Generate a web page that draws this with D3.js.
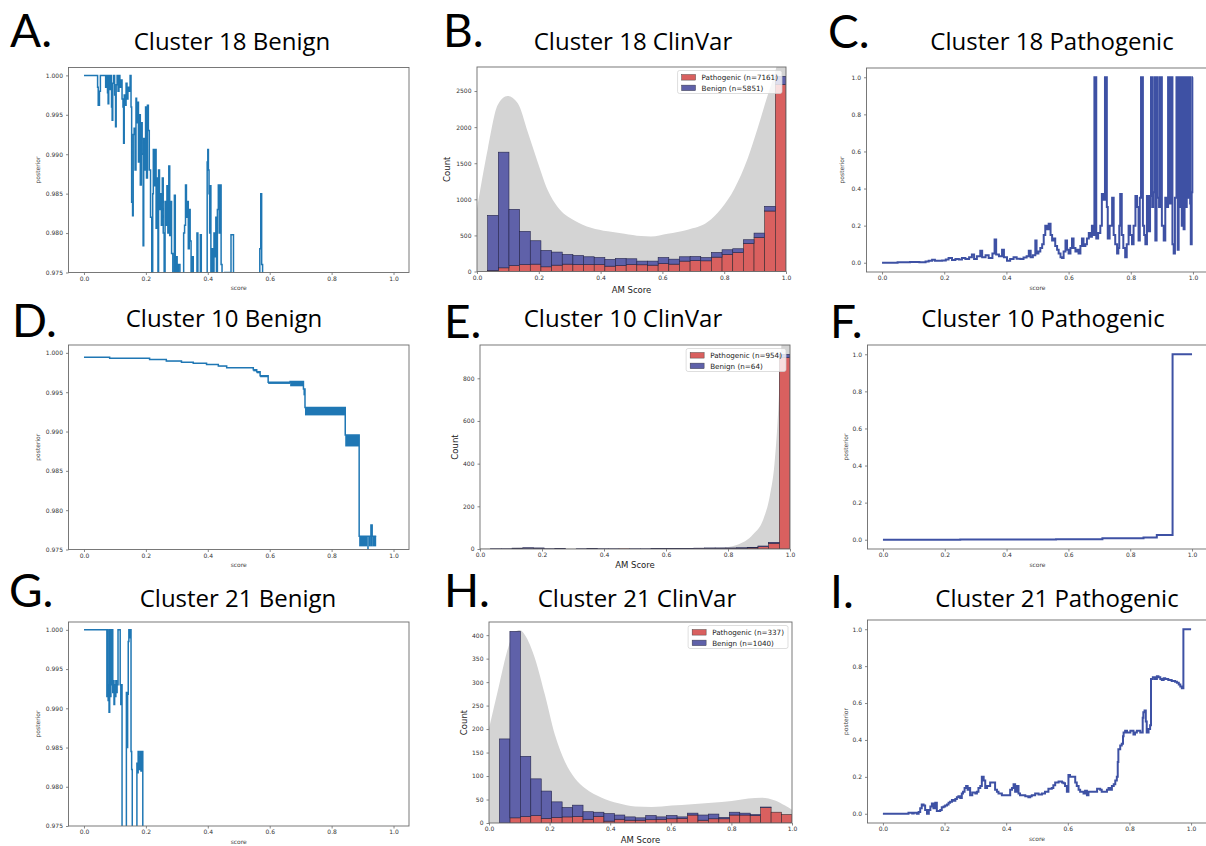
<!DOCTYPE html>
<html>
<head>
<meta charset="utf-8">
<script src="https://cdn.jsdelivr.net/npm/d3@7"></script>
<style>
body { margin: 0; background: #fff; }
svg { display: block; }
</style>
</head>
<body>
<div id="fig"></div>
<script>

// ---- tick labels ----
var scoreTicks = [0, 0.2, 0.4, 0.6, 0.8, 1.0];
var benignPostTicks = [0.975, 0.980, 0.985, 0.990, 0.995, 1.000];
var pathoPostTicks = [0, 0.2, 0.4, 0.6, 0.8, 1.0];
var c18CountTicks = [0, 500, 1000, 1500, 2000, 2500];
var c10CountTicks = [0, 200, 400, 600, 800];
var c21CountTicks = [0, 50, 100, 150, 200, 250, 300, 350, 400];

// ---- histogram bins (29 bins over AM score 0..1) ----
var binN = 29;
var c18PathoCounts  = [0,14,51,83,97,102,65,88,102,97,97,97,74,83,97,93,88,111,102,144,153,148,199,236,264,389,472,838,2593];
var c18BenignCounts = [0,764,1602,778,459,324,227,181,134,125,107,97,93,98,79,51,56,83,69,60,55,46,65,65,51,51,60,65,111];
var c10PathoCounts  = [0,0,0,1,1,1,0,1,0,0,1,0,0,1,0,0,1,1,1,1,2,2,2,3,3,5,11,27,897];
var c10BenignCounts = [0,1,1,3,5,4,1,1,0,1,1,1,1,0,1,1,1,1,1,1,2,3,3,2,3,3,3,4,15];
var c21PathoCounts  = [0,0,11,14,16,10,12,13,14,8,14,4,8,6,6,7,8,9,10,17,6,9,9,17,17,16,33,23,18];
var c21BenignCounts = [0,179,397,128,78,58,33,20,24,16,9,16,9,7,5,9,5,7,3,4,11,10,3,6,4,2,1,0,0];

// ---- density outlines (score, scaled count) ----
var c18Kde = [[0,870],[0.035,1700],[0.067,2305],[0.099,2430],[0.132,2330],[0.164,1935],[0.196,1520],[0.229,1125],[0.261,894],[0.315,708],[0.369,606],[0.423,556],[0.477,523],[0.531,491],[0.563,486],[0.617,523],[0.682,579],[0.746,685],[0.79,870],[0.833,1148],[0.876,1565],[0.908,1981],[0.941,2444],[0.962,2722],[0.98,3000],[1.0,3150]];
var c10Kde = [[0,3],[0.1,5],[0.15,6],[0.25,3],[0.5,2],[0.7,4],[0.774,6],[0.828,19],[0.882,70],[0.914,140],[0.935,250],[0.95,400],[0.962,650],[0.97,900],[0.98,1100],[1.0,1300]];
var c21Kde = [[0,201],[0.031,287],[0.064,375],[0.086,407],[0.102,411],[0.119,400],[0.152,350],[0.185,272],[0.218,187],[0.251,130],[0.284,95],[0.317,74],[0.372,54],[0.427,42],[0.482,35],[0.537,34],[0.603,37],[0.669,40],[0.735,43],[0.801,47],[0.856,52],[0.9,54],[0.944,48],[0.977,37],[1.0,28]];

// ---- posterior curves (score, posterior) ----
var c18BenignPost = [[0.000,1.0000],[0.044,0.9985],[0.046,0.9962],[0.050,0.9980],[0.053,1.0000],[0.070,0.9985],[0.073,1.0000],[0.076,0.9978],[0.078,0.9964],[0.080,1.0000],[0.083,0.9982],[0.086,1.0000],[0.089,0.9960],[0.091,0.9943],[0.093,0.9990],[0.096,1.0000],[0.099,0.9975],[0.102,0.9935],[0.104,0.9988],[0.107,1.0000],[0.110,0.9980],[0.113,1.0000],[0.116,0.9985],[0.120,0.9994],[0.123,0.9970],[0.126,0.9960],[0.128,0.9914],[0.130,0.9975],[0.133,0.9962],[0.136,0.9990],[0.139,0.9970],[0.142,0.9985],[0.146,0.9980],[0.149,1.0000],[0.152,0.9960],[0.154,0.9839],[0.157,0.9822],[0.159,0.9925],[0.162,0.9933],[0.165,0.9880],[0.168,0.9971],[0.170,0.9940],[0.173,0.9966],[0.176,0.9890],[0.179,0.9950],[0.182,0.9861],[0.185,0.9940],[0.188,0.9900],[0.191,0.9784],[0.193,0.9920],[0.196,0.9880],[0.199,0.9960],[0.202,0.9870],[0.205,0.9962],[0.208,0.9930],[0.211,0.9880],[0.215,0.9820],[0.219,0.9720],[0.222,0.9850],[0.224,0.9906],[0.227,0.9860],[0.230,0.9906],[0.233,0.9806],[0.236,0.9870],[0.239,0.9720],[0.241,0.9880],[0.244,0.9830],[0.247,0.9850],[0.250,0.9810],[0.253,0.9870],[0.256,0.9800],[0.259,0.9720],[0.262,0.9840],[0.265,0.9810],[0.268,0.9860],[0.271,0.9800],[0.274,0.9885],[0.277,0.9797],[0.280,0.9840],[0.283,0.9774],[0.287,0.9720],[0.292,0.9848],[0.295,0.9720],[0.298,0.9770],[0.301,0.9720],[0.305,0.9760],[0.310,0.9720],[0.322,0.9800],[0.325,0.9810],[0.328,0.9861],[0.331,0.9820],[0.334,0.9840],[0.337,0.9780],[0.340,0.9830],[0.343,0.9790],[0.346,0.9720],[0.350,0.9770],[0.353,0.9720],[0.365,0.9800],[0.368,0.9720],[0.374,0.9720],[0.376,0.9798],[0.379,0.9720],[0.398,0.9890],[0.400,0.9906],[0.402,0.9880],[0.404,0.9850],[0.406,0.9800],[0.408,0.9860],[0.410,0.9720],[0.413,0.9780],[0.416,0.9720],[0.420,0.9800],[0.423,0.9770],[0.426,0.9820],[0.428,0.9720],[0.431,0.9830],[0.434,0.9861],[0.437,0.9800],[0.440,0.9861],[0.443,0.9760],[0.446,0.9720],[0.455,0.9750],[0.475,0.9798],[0.480,0.9798],[0.483,0.9720],[0.568,0.9780],[0.571,0.9850],[0.574,0.9760],[0.577,0.9720],[0.580,0.9720]];

var c18PathoPost = [[0,0],[0.05,0.002],[0.09,0.004],[0.12,0.003],[0.14,0.006],[0.15,0.01],[0.161,0.016],[0.17,0.01],[0.193,0.012],[0.205,0.018],[0.214,0.025],[0.225,0.015],[0.236,0.02],[0.247,0.018],[0.257,0.026],[0.268,0.02],[0.28,0.03],[0.289,0.045],[0.296,0.02],[0.305,0.035],[0.316,0.065],[0.322,0.03],[0.333,0.04],[0.343,0.025],[0.355,0.05],[0.362,0.125],[0.367,0.045],[0.376,0.035],[0.386,0.07],[0.392,0.03],[0.402,0.01],[0.412,0.02],[0.423,0.03],[0.433,0.022],[0.445,0.02],[0.455,0.028],[0.465,0.035],[0.472,0.065],[0.478,0.03],[0.485,0.04],[0.493,0.12],[0.497,0.05],[0.503,0.06],[0.509,0.08],[0.515,0.1],[0.520,0.15],[0.525,0.2],[0.531,0.18],[0.536,0.21],[0.542,0.15],[0.547,0.12],[0.552,0.13],[0.557,0.09],[0.563,0.07],[0.568,0.05],[0.574,0.03],[0.579,0.025],[0.584,0.06],[0.59,0.12],[0.595,0.07],[0.6,0.05],[0.606,0.08],[0.611,0.13],[0.616,0.08],[0.622,0.06],[0.627,0.07],[0.632,0.05],[0.638,0.09],[0.643,0.13],[0.648,0.09],[0.654,0.1],[0.659,0.13],[0.665,0.16],[0.67,0.14],[0.675,0.2],[0.68,0.15],[0.683,1.0],[0.689,0.13],[0.695,0.16],[0.702,0.2],[0.707,0.37],[0.713,0.34],[0.717,1.0],[0.723,0.3],[0.726,0.13],[0.732,0.2],[0.74,0.35],[0.745,0.15],[0.75,0.1],[0.756,0.05],[0.76,0.08],[0.763,0.2],[0.766,0.37],[0.771,0.15],[0.776,0.08],[0.782,0.03],[0.787,0.1],[0.793,0.2],[0.798,0.15],[0.804,0.1],[0.809,0.2],[0.815,0.36],[0.82,0.3],[0.825,0.12],[0.829,0.35],[0.833,1.0],[0.839,0.2],[0.843,0.15],[0.847,0.1],[0.852,0.36],[0.857,0.17],[0.862,0.36],[0.865,1.0],[0.869,0.3],[0.872,0.38],[0.876,1.0],[0.879,0.12],[0.883,1.0],[0.887,0.35],[0.891,0.3],[0.894,1.0],[0.9,0.2],[0.906,0.12],[0.911,0.35],[0.916,0.3],[0.92,1.0],[0.926,0.32],[0.93,1.0],[0.934,0.1],[0.938,0.05],[0.942,0.35],[0.947,1.0],[0.951,0.07],[0.954,1.0],[0.958,0.3],[0.961,1.0],[0.964,0.2],[0.967,1.0],[0.97,0.18],[0.973,1.0],[0.977,0.3],[0.98,1.0],[0.984,0.35],[0.988,1.0],[0.991,0.32],[0.993,0.1],[0.996,0.38],[0.998,1.0],[1.0,1.0]];

// cluster 10 benign: [score from, score to, posterior low, posterior high]
var c10BenignSteps = [[0.000,0.083,0.99935,0.99945],[0.083,0.212,0.99928,0.99932],[0.212,0.266,0.99913,0.99917],[0.266,0.315,0.99893,0.99897],[0.315,0.353,0.99878,0.99882],[0.353,0.396,0.99863,0.99867],[0.396,0.434,0.99848,0.99852],[0.434,0.461,0.99828,0.99832],[0.461,0.547,0.99808,0.99812],[0.547,0.558,0.99765,0.99785],[0.558,0.569,0.99740,0.99760],[0.569,0.595,0.99690,0.99710],[0.595,0.666,0.99605,0.99625],[0.666,0.709,0.99575,0.99635],[0.709,0.714,0.99460,0.99540],[0.714,0.844,0.99205,0.99305],[0.844,0.889,0.98810,0.98955],[0.889,0.915,0.97540,0.97670],[0.915,0.920,0.97450,0.97670],[0.920,0.927,0.97540,0.97670],[0.927,0.931,0.97540,0.97810],[0.931,0.944,0.97540,0.97670]];

var c10PathoPost = [[0,0],[0.25,0.001],[0.56,0.003],[0.71,0.008],[0.843,0.012],[0.886,0.025],[0.937,1.0],[1.0,1.0]];

var c21BenignPost = [[0.000,1.0000],[0.074,0.9915],[0.076,1.0000],[0.078,0.9910],[0.080,0.9930],[0.081,0.9895],[0.083,1.0000],[0.085,0.9915],[0.087,1.0000],[0.089,0.9930],[0.091,1.0000],[0.093,0.9920],[0.095,0.9935],[0.097,0.9905],[0.099,0.9930],[0.101,0.9915],[0.103,0.9935],[0.105,0.9920],[0.107,0.9930],[0.110,1.0000],[0.115,1.0000],[0.117,0.9930],[0.119,0.9905],[0.121,0.9930],[0.123,0.9700],[0.137,0.9920],[0.139,0.9850],[0.141,0.9918],[0.143,0.9985],[0.145,1.0000],[0.148,0.9990],[0.150,1.0000],[0.152,0.9845],[0.154,0.9822],[0.156,0.9700],[0.171,0.9830],[0.173,0.9818],[0.175,0.9845],[0.177,0.9822],[0.180,0.9838],[0.182,0.9845],[0.184,0.9820],[0.186,0.9838],[0.188,0.9845],[0.190,0.9700]];

var c21PathoPost = [[0,0],[0.083,0.005],[0.095,0.002],[0.1,0.006],[0.11,0.0],[0.116,0.01],[0.121,0.03],[0.126,0.05],[0.132,0.045],[0.137,0.02],[0.143,0.0],[0.149,0.02],[0.154,0.04],[0.159,0.055],[0.164,0.03],[0.17,0.06],[0.175,0.015],[0.186,0.02],[0.191,0.035],[0.197,0.04],[0.202,0.045],[0.208,0.05],[0.213,0.06],[0.218,0.065],[0.224,0.075],[0.229,0.07],[0.235,0.08],[0.24,0.09],[0.245,0.095],[0.251,0.085],[0.256,0.11],[0.26,0.12],[0.265,0.14],[0.27,0.15],[0.275,0.13],[0.28,0.14],[0.283,0.1],[0.29,0.115],[0.3,0.11],[0.305,0.12],[0.31,0.14],[0.316,0.15],[0.321,0.2],[0.327,0.18],[0.332,0.14],[0.338,0.15],[0.343,0.15],[0.348,0.17],[0.359,0.17],[0.364,0.13],[0.37,0.12],[0.375,0.11],[0.386,0.1],[0.402,0.1],[0.413,0.13],[0.419,0.14],[0.424,0.16],[0.429,0.12],[0.435,0.15],[0.44,0.11],[0.445,0.1],[0.462,0.095],[0.472,0.09],[0.478,0.095],[0.483,0.1],[0.494,0.11],[0.505,0.105],[0.516,0.11],[0.526,0.12],[0.537,0.135],[0.548,0.14],[0.553,0.155],[0.559,0.17],[0.57,0.175],[0.581,0.17],[0.586,0.165],[0.591,0.15],[0.597,0.12],[0.602,0.21],[0.607,0.2],[0.618,0.2],[0.624,0.17],[0.629,0.15],[0.635,0.13],[0.64,0.12],[0.651,0.11],[0.656,0.125],[0.662,0.1],[0.667,0.12],[0.672,0.12],[0.689,0.12],[0.695,0.135],[0.705,0.13],[0.71,0.12],[0.721,0.12],[0.727,0.13],[0.732,0.14],[0.738,0.13],[0.743,0.15],[0.749,0.16],[0.754,0.18],[0.759,0.2],[0.762,0.28],[0.764,0.35],[0.77,0.37],[0.775,0.38],[0.779,0.42],[0.781,0.44],[0.786,0.45],[0.792,0.44],[0.797,0.44],[0.803,0.45],[0.808,0.45],[0.813,0.43],[0.818,0.44],[0.824,0.45],[0.829,0.45],[0.835,0.44],[0.84,0.44],[0.843,0.52],[0.845,0.55],[0.849,0.56],[0.853,0.5],[0.856,0.44],[0.862,0.46],[0.867,0.48],[0.87,0.73],[0.876,0.74],[0.883,0.73],[0.889,0.745],[0.894,0.74],[0.9,0.73],[0.905,0.725],[0.911,0.735],[0.916,0.73],[0.926,0.725],[0.937,0.72],[0.948,0.715],[0.954,0.71],[0.96,0.7],[0.965,0.69],[0.97,0.68],[0.975,1.0],[1.0,1.0]];

// ---- styles ----
var benignLine = "#1f77b4",
	pathoLine = "#3e51a4",
	barRed = "#d9605f",
	barBlue = "#5f61a9",
	kdeGray = "#d4d4d4",
	tickFont = "'DejaVu Sans', sans-serif",
	headFont = "'Open Sans', sans-serif",
	letterFont = "Lato, sans-serif";

var svg = d3.select("#fig")
	.append("svg")
	.attr("width", 1206)
	.attr("height", 846);

var clipId = 0;

function addClip(b) {
	clipId++;
	svg.append("clipPath")
		.attr("id", "clip" + clipId)
		.append("rect")
		.attr("x", b[0]).attr("y", b[1])
		.attr("width", b[2] - b[0]).attr("height", b[3] - b[1]);
	return "url(#clip" + clipId + ")";
}

function heading(letter, lx, ly, title, tx, ty) {
	svg.append("text")
		.attr("x", lx).attr("y", ly)
		.attr("font-family", letterFont)
		.attr("font-size", 46)
		.attr("fill", "#000")
		.text(letter);
	svg.append("text")
		.attr("x", tx).attr("y", ty)
		.attr("text-anchor", "middle")
		.attr("font-family", headFont)
		.attr("font-size", 24)
		.attr("fill", "#000")
		.text(title);
}

function drawAxes(g, b, x, y, yticks, yfmt) {
	var ax = g.append("g")
		.attr("transform", "translate(0," + b[3] + ")")
		.call(d3.axisBottom(x).tickValues(scoreTicks).tickFormat(d3.format(".1f")).tickSize(2.5).tickPadding(1.5));
	var ay = g.append("g")
		.attr("transform", "translate(" + b[0] + ",0)")
		.call(d3.axisLeft(y).tickValues(yticks).tickFormat(d3.format(yfmt)).tickSize(2.5).tickPadding(3));
	[ax, ay].forEach(function(a) {
		a.select(".domain").remove();
		a.selectAll(".tick line").attr("stroke", "#555").attr("stroke-width", 0.7);
		a.selectAll(".tick text")
			.attr("font-family", tickFont)
			.attr("font-size", 6)
			.attr("fill", "#333");
	});
	g.append("rect")
		.attr("x", b[0]).attr("y", b[1])
		.attr("width", b[2] - b[0]).attr("height", b[3] - b[1])
		.attr("fill", "none")
		.attr("stroke", "#6a6a6a")
		.attr("stroke-width", 0.9);
}

function postPanel(p) {
	var b = p.box;
	var g = svg.append("g");
	var x = d3.scaleLinear().domain([-0.05, 1.05]).range([b[0], b[2]]);
	var y = d3.scaleLinear().domain(p.ydom).range([b[3], b[1]]);
	var clip = addClip(b);
	var line = d3.line()
		.x(function(d) { return x(d[0]); })
		.y(function(d) { return y(d[1]); });

	if (p.steps) {
		// banded steps: fill each step between its low and high posterior
		g.append("g").attr("clip-path", clip)
			.selectAll("rect")
			.data(p.steps)
			.enter()
			.append("rect")
			.attr("x", function(d) { return x(d[0]); })
			.attr("width", function(d) { return x(d[1]) - x(d[0]); })
			.attr("y", function(d) { return y(d[3]); })
			.attr("height", function(d) { return y(d[2]) - y(d[3]); })
			.attr("fill", p.color);
		var pts = [];
		p.steps.forEach(function(s) {
			pts.push([s[0], s[3]]);
			pts.push([s[1], s[3]]);
		});
		g.append("path")
			.datum(pts)
			.attr("clip-path", clip)
			.attr("d", line)
			.attr("fill", "none")
			.attr("stroke", p.color)
			.attr("stroke-width", p.lw);
	} else {
		g.append("path")
			.datum(p.data)
			.attr("clip-path", clip)
			.attr("d", line.curve(d3.curveStepAfter))
			.attr("fill", "none")
			.attr("stroke", p.color)
			.attr("stroke-width", p.lw)
			.attr("stroke-linejoin", "miter");
	}

	drawAxes(g, b, x, y, p.yticks, p.yfmt);

	g.append("text")
		.attr("transform", "translate(" + p.ylabX + "," + ((b[1] + b[3]) / 2) + ") rotate(-90)")
		.attr("text-anchor", "middle")
		.attr("font-family", tickFont)
		.attr("font-size", 6)
		.attr("fill", "#444")
		.text("posterior");
	g.append("text")
		.attr("x", x(0.5)).attr("y", b[3] + 17.5)
		.attr("text-anchor", "middle")
		.attr("font-family", tickFont)
		.attr("font-size", 6)
		.attr("fill", "#444")
		.text("score");
}

function histPanel(p) {
	var b = p.box;
	var g = svg.append("g");
	var x = d3.scaleLinear().domain([0, 1]).range([b[0], b[2]]);
	var y = d3.scaleLinear().domain([0, p.ymax]).range([b[3], b[1]]);
	var clip = addClip(b);

	var area = d3.area()
		.x(function(d) { return x(d[0]); })
		.y0(y(0))
		.y1(function(d) { return y(d[1]); })
		.curve(d3.curveMonotoneX);
	g.append("path")
		.datum(p.kde)
		.attr("clip-path", clip)
		.attr("d", area)
		.attr("fill", kdeGray);

	var bins = p.patho.map(function(v, i) {
		return { x0: i / binN, x1: (i + 1) / binN, pat: v, ben: p.benign[i] };
	});
	var bars = g.append("g").attr("clip-path", clip);
	bars.selectAll("rect.pat")
		.data(bins)
		.enter()
		.append("rect")
		.attr("class", "pat")
		.attr("x", function(d) { return x(d.x0); })
		.attr("width", function(d) { return x(d.x1) - x(d.x0); })
		.attr("y", function(d) { return y(d.pat); })
		.attr("height", function(d) { return y(0) - y(d.pat); })
		.attr("fill", barRed)
		.attr("stroke", "#3a2a30")
		.attr("stroke-width", 0.6);
	bars.selectAll("rect.ben")
		.data(bins.filter(function(d) { return d.ben > 0; }))
		.enter()
		.append("rect")
		.attr("class", "ben")
		.attr("x", function(d) { return x(d.x0); })
		.attr("width", function(d) { return x(d.x1) - x(d.x0); })
		.attr("y", function(d) { return y(d.pat + d.ben); })
		.attr("height", function(d) { return y(d.pat) - y(d.pat + d.ben); })
		.attr("fill", barBlue)
		.attr("stroke", "#23244a")
		.attr("stroke-width", 0.6);

	drawAxes(g, b, x, y, p.yticks, "d");

	g.append("text")
		.attr("transform", "translate(" + p.ylabX + "," + ((b[1] + b[3]) / 2) + ") rotate(-90)")
		.attr("text-anchor", "middle")
		.attr("font-family", tickFont)
		.attr("font-size", 8.5)
		.attr("fill", "#222")
		.text("Count");
	g.append("text")
		.attr("x", x(0.5)).attr("y", b[3] + p.xlabDy)
		.attr("text-anchor", "middle")
		.attr("font-family", tickFont)
		.attr("font-size", 8.5)
		.attr("fill", "#222")
		.text("AM Score");

	// legend, upper right
	var leg = g.append("g");
	var box = leg.append("rect")
		.attr("fill", "#fff")
		.attr("fill-opacity", 0.8)
		.attr("stroke", "#d0d0d0")
		.attr("stroke-width", 0.7)
		.attr("rx", 2);
	var maxW = 0;
	p.legend.forEach(function(item, i) {
		leg.append("rect")
			.attr("x", 4).attr("y", 4 + i * 10.6)
			.attr("width", 14).attr("height", 5.6)
			.attr("fill", item[1])
			.attr("stroke", "#333")
			.attr("stroke-width", 0.4);
		var t = leg.append("text")
			.attr("x", 24).attr("y", 9.5 + i * 10.6)
			.attr("font-family", tickFont)
			.attr("font-size", 7.2)
			.attr("fill", "#222")
			.text(item[0]);
		maxW = Math.max(maxW, t.node().getComputedTextLength());
	});
	var lw = maxW + 28, lh = 23;
	box.attr("width", lw).attr("height", lh);
	leg.attr("transform", "translate(" + (b[2] - 4 - lw) + "," + (b[1] + 3.5) + ")");
}

// ---- headings ----
heading("A.", 10, 47, "Cluster 18 Benign", 232, 50);
heading("B.", 443, 47, "Cluster 18 ClinVar", 633, 50);
heading("C.", 828, 48, "Cluster 18 Pathogenic", 1052, 50);
heading("D.", 12, 337, "Cluster 10 Benign", 224, 327);
heading("E.", 444, 338, "Cluster 10 ClinVar", 623, 327);
heading("F.", 830, 338, "Cluster 10 Pathogenic", 1043, 327);
heading("G.", 9, 607, "Cluster 21 Benign", 238, 607);
heading("H.", 444, 607, "Cluster 21 ClinVar", 637, 607);
heading("I.", 830, 608, "Cluster 21 Pathogenic", 1057, 607);

// ---- panels ----
postPanel({ box: [68.5, 67.5, 409, 272.5], ydom: [0.975, 1.001], yticks: benignPostTicks, yfmt: ".3f",
	data: c18BenignPost, color: benignLine, lw: 1.5, ylabX: 40 });
histPanel({ box: [477, 67, 786, 271.5], ymax: 2833, yticks: c18CountTicks, kde: c18Kde,
	patho: c18PathoCounts, benign: c18BenignCounts, ylabX: 450, xlabDy: 21,
	legend: [["Pathogenic (n=7161)", barRed], ["Benign (n=5851)", barBlue]] });
postPanel({ box: [866.5, 68, 1208.5, 272], ydom: [-0.05, 1.05], yticks: pathoPostTicks, yfmt: ".1f",
	data: c18PathoPost, color: pathoLine, lw: 2, ylabX: 844 });

postPanel({ box: [68.5, 345, 409, 549.5], ydom: [0.975, 1.001], yticks: benignPostTicks, yfmt: ".3f",
	steps: c10BenignSteps, color: benignLine, lw: 1.5, ylabX: 40 });
histPanel({ box: [480, 345, 790, 549], ymax: 956, yticks: c10CountTicks, kde: c10Kde,
	patho: c10PathoCounts, benign: c10BenignCounts, ylabX: 458, xlabDy: 19,
	legend: [["Pathogenic (n=954)", barRed], ["Benign (n=64)", barBlue]] });
postPanel({ box: [867.5, 345, 1207.5, 549], ydom: [-0.05, 1.05], yticks: pathoPostTicks, yfmt: ".1f",
	data: c10PathoPost, color: pathoLine, lw: 2, ylabX: 848 });

postPanel({ box: [68.5, 622, 409, 826], ydom: [0.975, 1.001], yticks: benignPostTicks, yfmt: ".3f",
	data: c21BenignPost, color: benignLine, lw: 1.5, ylabX: 40 });
histPanel({ box: [489, 622, 792, 823], ymax: 428, yticks: c21CountTicks, kde: c21Kde,
	patho: c21PathoCounts, benign: c21BenignCounts, ylabX: 467, xlabDy: 20,
	legend: [["Pathogenic (n=337)", barRed], ["Benign (n=1040)", barBlue]] });
postPanel({ box: [867.5, 620, 1206.5, 823], ydom: [-0.05, 1.05], yticks: pathoPostTicks, yfmt: ".1f",
	data: c21PathoPost, color: pathoLine, lw: 2, ylabX: 848 });

</script>
</body>
</html>
